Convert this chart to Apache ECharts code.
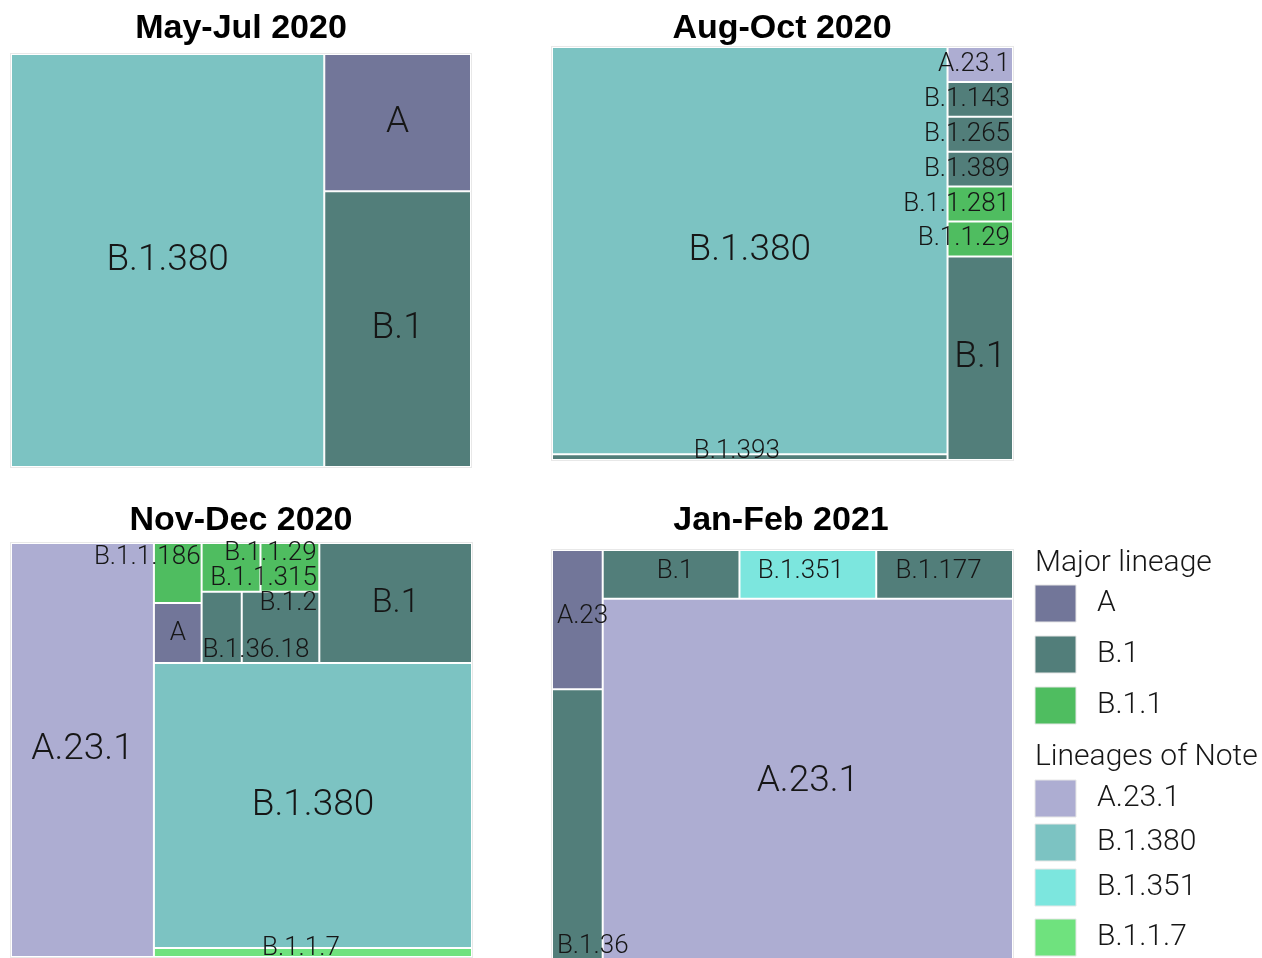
<!DOCTYPE html>
<html>
<head>
<meta charset="utf-8">
<title>Lineage treemaps</title>
<script src="https://cdn.jsdelivr.net/npm/echarts@6/dist/echarts.min.js"></script>
<style>
  html, body { margin: 0; padding: 0; background: #fff; }
  #chart { width: 1262px; height: 958px; }
</style>
</head>
<body>
<div id="chart"></div>
<script>
const periods = ['May-Jul 2020', 'Aug-Oct 2020', 'Nov-Dec 2020', 'Jan-Feb 2021']

// share of sequenced samples (%) per lineage
const mayJulLineages = ['B.1.380', 'A', 'B.1']
const mayJulShare = [68.1, 10.6, 21.3]

const augOctLineages = ['B.1.380', 'B.1.393', 'A.23.1', 'B.1.143', 'B.1.265', 'B.1.389', 'B.1.1.281', 'B.1.1.29', 'B.1']
const augOctShare = [84.6, 1.2, 1.2, 1.2, 1.2, 1.2, 1.2, 1.2, 7.0]

const novDecLineages = ['A.23.1', 'B.1.1.186', 'A', 'B.1.1.315', 'B.1.1.29', 'B.1.36.18', 'B.1.2', 'B.1', 'B.1.380', 'B.1.1.7']
const novDecShare = [31.0, 1.5, 1.5, 1.5, 1.5, 1.5, 2.9, 9.6, 47.5, 1.5]

const janFebLineages = ['A.23', 'B.1.36', 'B.1', 'B.1.351', 'B.1.177', 'A.23.1']
const janFebShare = [3.7, 7.3, 3.5, 3.5, 3.5, 78.5]

// grouping of cells before tiling, keeps the arrangement of the original
const mayJulGroups = ['B.1.380', 'A', 'B.1']
const augOctGroups = [['B.1.380', 'B.1.393'], ['A.23.1', 'B.1.143', 'B.1.265', 'B.1.389', 'B.1.1.281', 'B.1.1.29', 'B.1']]
const novDecGroups = ['A.23.1', [[[['B.1.1.186', 'A'], [['B.1.1.315', 'B.1.1.29'], ['B.1.36.18', 'B.1.2']], 'B.1'], 'B.1.380'], [[['B.1.1.7']]]]]
const janFebGroups = [['A.23', 'B.1.36'], [['B.1', 'B.1.351', 'B.1.177'], 'A.23.1']]

// legend
const majorLineages = ['A', 'B.1', 'B.1.1']
const notedLineages = ['A.23.1', 'B.1.380', 'B.1.351', 'B.1.1.7']

const lineageColors = {
  'A': '#727699',
  'B.1': '#527e7a',
  'B.1.1': '#4fbd60',
  'A.23.1': '#adadd2',
  'B.1.380': '#7cc3c2',
  'B.1.351': '#7ce6de',
  'B.1.1.7': '#6fe27e'
}

const colorOf = (name) => {
  if (lineageColors[name]) return lineageColors[name]
  if (name.startsWith('B.1.1.')) return lineageColors['B.1.1']
  if (name.startsWith('B.1.')) return lineageColors['B.1']
  return lineageColors['A']
}

const FONT = 'Roboto'
const LABEL_WEIGHT = 300
const SMALL = 26
const BIG = 37

// label placement for cells that are too small for their name
const big = { fontSize: BIG }
const edgeRight = { position: 'insideRight', distance: 2 }
// thin strips: tiny line height so treemap does not drop the label
const strip = (offset) => ({ offset, lineHeight: 2 })
const labelTweaks = [
  { 'B.1.380': big, 'A': big, 'B.1': big },
  {
    'B.1.380': big, 'B.1': big,
    'A.23.1': edgeRight, 'B.1.143': edgeRight, 'B.1.265': edgeRight,
    'B.1.389': edgeRight, 'B.1.1.281': edgeRight, 'B.1.1.29': edgeRight,
    'B.1.393': strip([-13, -6])
  },
  {
    'A.23.1': big, 'B.1.380': big, 'B.1': { fontSize: 34 },
    'B.1.1.186': { position: ['100%', '24%'], align: 'right', verticalAlign: 'middle' },
    'B.1.1.315': { position: ['201%', '75%'], align: 'right', verticalAlign: 'middle' },
    'B.1.1.29': { position: ['97%', '21%'], align: 'right', verticalAlign: 'middle' },
    'B.1.2': { position: ['98%', '16%'], align: 'right', verticalAlign: 'middle' },
    'B.1.36.18': { position: ['0%', '83%'], align: 'left', verticalAlign: 'middle' },
    'B.1.1.7': strip([-12, -4])
  },
  {
    'A.23.1': big,
    'A.23': { position: ['8%', '48%'], align: 'left', verticalAlign: 'middle' },
    'B.1.36': { position: ['8%', '94%'], align: 'left', verticalAlign: 'middle' },
    'B.1': { offset: [4, -3] }, 'B.1.351': { offset: [-7, -3] }, 'B.1.177': { offset: [-6, -3] }
  }
]

const panelBoxes = [
  { left: 10, top: 53, width: 462, height: 415 },
  { left: 551, top: 46, width: 463, height: 415 },
  { left: 10, top: 542, width: 463, height: 416 },
  { left: 551, top: 549, width: 463, height: 416 }
]
const titlePos = [[241, 29], [782, 29], [241, 521], [781, 521]]

const groupStyle = { borderWidth: 0, gapWidth: 0, borderColor: '#fff' }

const buildTree = (groups, names, shares, tweaks) => groups.map(g => {
  if (Array.isArray(g)) {
    return { name: '', children: buildTree(g, names, shares, tweaks), itemStyle: groupStyle }
  }
  const i = names.indexOf(g)
  return {
    name: g,
    value: shares[i],
    itemStyle: { color: colorOf(g), borderColor: '#fff', borderWidth: 1 },
    label: tweaks[g] || {}
  }
})

const panels = [
  [mayJulGroups, mayJulLineages, mayJulShare],
  [augOctGroups, augOctLineages, augOctShare],
  [novDecGroups, novDecLineages, novDecShare],
  [janFebGroups, janFebLineages, janFebShare]
]

const series = panels.map(([groups, names, shares], k) => ({
  type: 'treemap',
  name: periods[k],
  ...panelBoxes[k],
  roam: false,
  nodeClick: false,
  breadcrumb: { show: false },
  sort: false,
  squareRatio: 1,
  visibleMin: 0,
  itemStyle: { borderWidth: 0, gapWidth: 0, borderColor: '#fff' },
  levels: [{ itemStyle: { borderWidth: 1, borderColor: '#e8e8e8', gapWidth: 0 } }],
  label: {
    show: true,
    position: 'inside',
    color: '#161616',
    fontFamily: FONT,
    fontWeight: LABEL_WEIGHT,
    fontSize: SMALL,
    padding: 0,
    overflow: 'none'
  },
  upperLabel: { show: false },
  data: buildTree(groups, names, shares, labelTweaks[k])
}))

// legend drawn by hand: two titled blocks of swatches
const legendBlocks = [
  { title: 'Major lineage', titleY: 563, names: majorLineages, rowY: [585, 636, 687] },
  { title: 'Lineages of Note', titleY: 757, names: notedLineages, rowY: [780, 824, 869, 919] }
]
const legendGraphics = []
legendBlocks.forEach(block => {
  legendGraphics.push({
    type: 'text', x: 1035, y: block.titleY,
    style: { text: block.title, fill: '#161616', fontFamily: FONT, fontWeight: LABEL_WEIGHT, fontSize: 30, verticalAlign: 'middle' }
  })
  block.names.forEach((name, i) => {
    const y = block.rowY[i]
    legendGraphics.push({
      type: 'rect',
      shape: { x: 1035, y: y, width: 41, height: 37 },
      style: { fill: colorOf(name), stroke: '#e6e6e6', lineWidth: 1 }
    })
    legendGraphics.push({
      type: 'text', x: 1097, y: y + 18.5,
      style: { text: name, fill: '#161616', fontFamily: FONT, fontWeight: LABEL_WEIGHT, fontSize: 30, verticalAlign: 'middle' }
    })
  })
})

const chart = echarts.init(document.getElementById('chart'))
chart.setOption({
  animation: false,
  backgroundColor: '#fff',
  title: periods.map((t, i) => ({
    text: t,
    left: titlePos[i][0],
    top: titlePos[i][1],
    textAlign: 'center',
    textVerticalAlign: 'middle',
    padding: 0,
    textStyle: { fontFamily: 'Liberation Sans', fontWeight: 'bold', fontSize: 34, color: '#000' }
  })),
  tooltip: { show: false },
  graphic: legendGraphics,
  series
})
window.addEventListener('resize', () => chart.resize())
</script>
</body>
</html>
